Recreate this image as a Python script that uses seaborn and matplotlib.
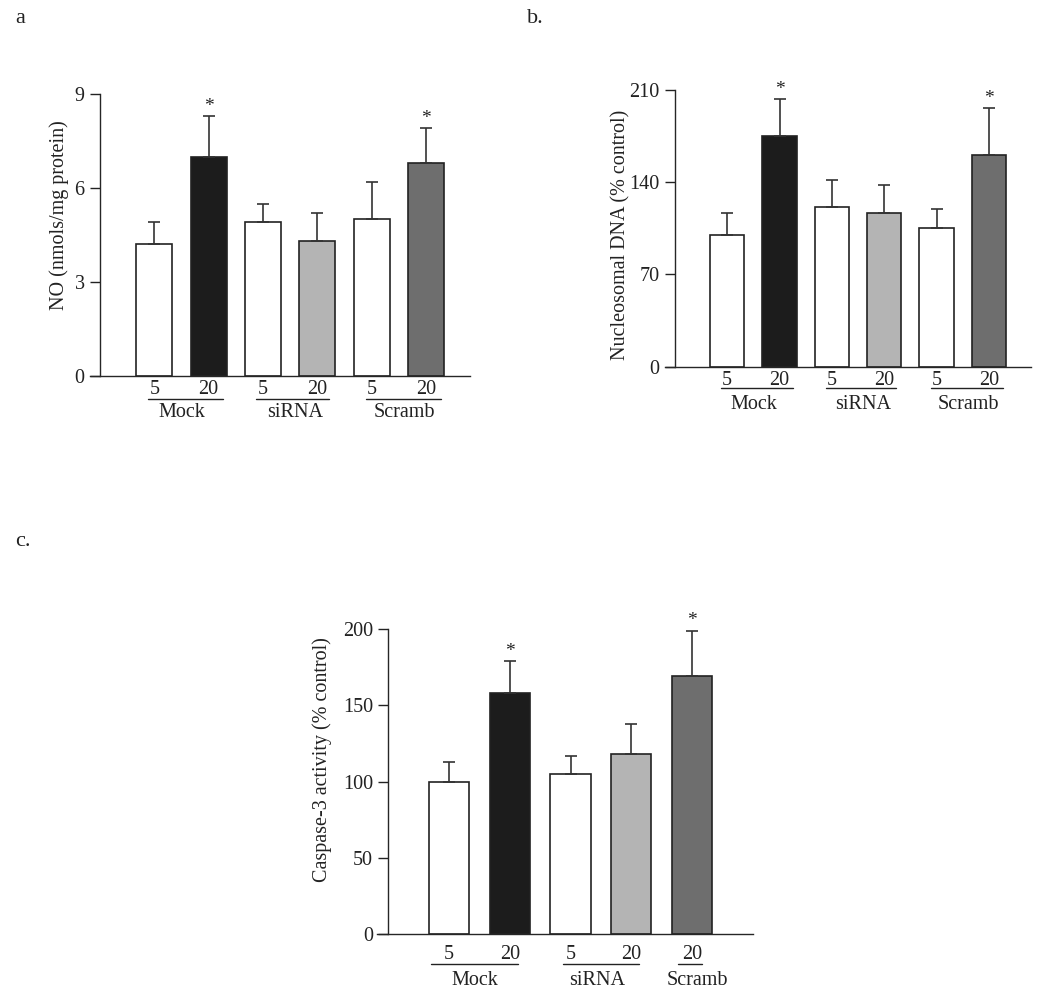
import numpy as np
import matplotlib
matplotlib.use("Agg")
import matplotlib.pyplot as plt
import matplotlib.transforms as mtransforms
import seaborn as sns
import pandas as pd

sns.set_style("ticks")
plt.rcParams["font.family"] = ["Liberation Serif", "DejaVu Serif"]
plt.rcParams["font.size"] = 14.5
plt.rcParams["text.color"] = "#222222"
plt.rcParams["axes.labelcolor"] = "#222222"
plt.rcParams["xtick.color"] = "#222222"
plt.rcParams["ytick.color"] = "#222222"

# ---- data ----
# panel a: NO (nmols/mg protein)
a_labels = ["Mock 5", "Mock 20", "siRNA 5", "siRNA 20", "Scramb 5", "Scramb 20"]
a_ticks = ["5", "20", "5", "20", "5", "20"]
a_mean = [4.2, 7.0, 4.9, 4.3, 5.0, 6.8]
a_err = [0.7, 1.3, 0.6, 0.9, 1.2, 1.1]
a_star = [False, True, False, False, False, True]

# panel b: Nucleosomal DNA (% control)
b_labels = a_labels
b_ticks = a_ticks
b_mean = [100, 175, 121, 117, 105, 161]
b_err = [17, 28, 21, 21, 15, 35]
b_star = [False, True, False, False, False, True]

# panel c: Caspase-3 activity (% control)
c_labels = ["Mock 5", "Mock 20", "siRNA 5", "siRNA 20", "Scramb 20"]
c_ticks = ["5", "20", "5", "20", "20"]
c_mean = [100, 158, 105, 118, 169]
c_err = [13, 21, 12, 20, 30]
c_star = [False, True, False, False, True]

pal6 = ["#ffffff", "#1c1c1c", "#ffffff", "#b4b4b4", "#ffffff", "#6e6e6e"]
pal5 = ["#ffffff", "#1c1c1c", "#ffffff", "#b4b4b4", "#6e6e6e"]


def panel(fig, rect, labels, ticks, mean, err, star, pal, ylim, yticks, ylabel,
          xlim, bw, groups, ylab_pos, line_y, name_y, tickpad):
    ax = fig.add_axes(rect)
    df = pd.DataFrame({"grp": labels, "val": mean})
    sns.barplot(data=df, x="grp", y="val", hue="grp", palette=pal, legend=False,
                width=bw, edgecolor="#222222", linewidth=1.2, errorbar=None, ax=ax)
    pos = np.arange(len(mean))
    # upper error bars only
    ax.errorbar(pos, mean, yerr=[np.zeros(len(err)), err], fmt="none",
                ecolor="#333333", elinewidth=1.2, capsize=4.5, capthick=1.2, zorder=1)
    for p, m, e, s in zip(pos, mean, err, star):
        if s:
            ax.annotate("*", (p, m + e), xytext=(0, 1), textcoords="offset points",
                        ha="center", va="bottom", fontsize=14)
    ax.set_xlim(xlim)
    ax.set_ylim(ylim)
    ax.set_yticks(yticks)
    ax.set_xticks(pos)
    ax.set_xticklabels(ticks)
    ax.tick_params(axis="x", length=0, pad=tickpad)
    ax.tick_params(axis="y", length=7, width=1, direction="out", pad=4)
    sns.despine(ax=ax)
    ax.spines["left"].set_position(("data", -1.0))
    ax.spines["left"].set_linewidth(1)
    ax.spines["bottom"].set_linewidth(1)
    ax.set_xlabel("")
    ax.set_ylabel(ylabel)
    ax.yaxis.set_label_coords(*ylab_pos)
    # group underlines and names
    trans = mtransforms.blended_transform_factory(ax.transData, ax.transAxes)
    for name, x0, x1, xc in groups:
        ax.plot([x0, x1], [line_y, line_y], color="#222222", lw=1, transform=trans,
                clip_on=False)
        ax.text(xc, name_y, name, transform=trans, ha="center", va="center")
    return ax


fig = plt.figure(figsize=(10.5, 10.01), dpi=100)

groups_ab = [("Mock", -0.12, 1.26, 0.5), ("siRNA", 1.88, 3.22, 2.59),
             ("Scramb", 3.9, 5.27, 4.61)]
panel(fig, [0.0857, 0.6244, 0.3619, 0.2817], a_labels, a_ticks, a_mean, a_err, a_star,
      pal6, (0, 9), [0, 3, 6, 9], "NO (nmols/mg protein)", (-1.184, 5.81), 0.66,
      groups_ab, (-0.055, 0.571), -0.082, -0.131, 3)
panel(fig, [0.6333, 0.6337, 0.3483, 0.2764], b_labels, b_ticks, b_mean, b_err, b_star,
      pal6, (0, 210), [0, 70, 140, 210], "Nucleosomal DNA (% control)", (-1.19, 5.8), 0.66,
      groups_ab, (-0.093, 0.476), -0.078, -0.138, 3)
groups_c = [("Mock", -0.3, 1.14, 0.43), ("siRNA", 1.88, 3.13, 2.43),
            ("Scramb", 3.77, 4.16, 4.09)]
panel(fig, [0.3588, 0.0666, 0.3587, 0.305], c_labels, c_ticks, c_mean, c_err, c_star,
      pal5, (0, 200), [0, 50, 100, 150, 200], "Caspase-3 activity (% control)", (-1.19, 5.01),
      0.66, groups_c, (-0.12, 0.571), -0.098, -0.15, 8)

fig.text(15 / 1050, 1 - 18 / 1001, "a", fontsize=16, va="center", ha="left")
fig.text(527 / 1050, 1 - 18 / 1001, "b.", fontsize=16, va="center", ha="left")
fig.text(15 / 1050, 1 - 541 / 1001, "c.", fontsize=16, va="center", ha="left")

fig.savefig("out.png", dpi=100)
